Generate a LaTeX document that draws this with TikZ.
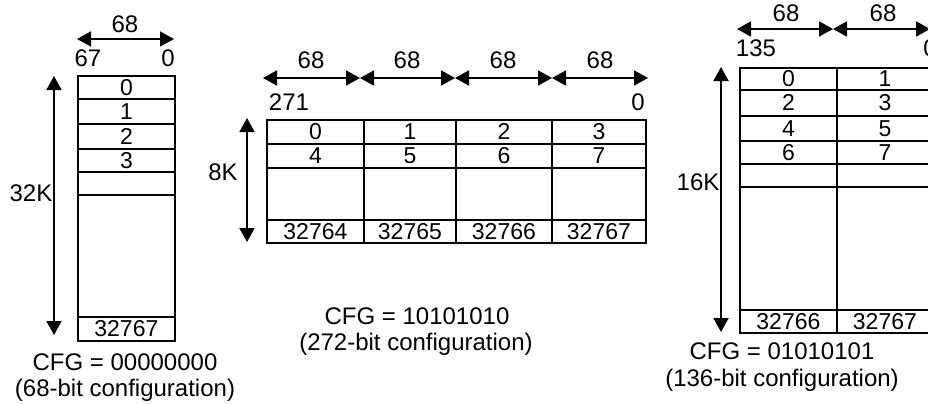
\documentclass[tikz,border=0pt]{standalone}
\usepackage{fontspec}
\setmainfont{Liberation Sans}
\usetikzlibrary{arrows.meta}
\newcommand{\mcell}[6]{\node[cell, minimum width={#4-#2}, minimum height={#5-#3}] (#1) at (#2,#3) {#6};}
\begin{document}
\begin{tikzpicture}[x=1pt,y=-1pt,
  cell/.style={draw, line width=1.8pt, inner sep=0pt, anchor=north west, font=\fontsize{23}{23}\selectfont},
  lbl/.style={inner sep=0pt, anchor=base, font=\fontsize{24}{24}\selectfont},
  dim/.style={line width=1.8pt, {Triangle[length=14pt,width=15pt]}-{Triangle[length=14pt,width=15pt]}}]
\useasboundingbox (0,0) rectangle (928,404);
% ---------- left: 68-bit ----------
\mcell{L0}{77}{75}{174}{98}{0}
\mcell{L1}{77}{98}{174}{123}{1}
\mcell{L2}{77}{123}{174}{148}{2}
\mcell{L3}{77}{148}{174}{171}{3}
\mcell{L4}{77}{171}{174}{194}{}
\mcell{L5}{77}{194}{174}{316}{}
\mcell{L6}{77}{316}{174}{340}{32767}
\coordinate (LhA) at (77,39); \coordinate (LhB) at (174,39);
\draw[dim] (LhA) -- (LhB);
\node[lbl] (Lw) at (125,32.5) {68};
\node[lbl] (Lmsb) at (88,66.5) {67};
\node[lbl] (Llsb) at (168,66.5) {0};
\coordinate (LvA) at (54,76); \coordinate (LvB) at (54,335);
\draw[dim] (LvA) -- (LvB);
\node[lbl] (Ld) at (31,201.5) {32K};
\node[lbl] (Lc1) at (125,370.5) {CFG = 00000000};
\node[lbl] (Lc2) at (125,396.5) {(68-bit configuration)};
% ---------- middle: 272-bit ----------
\mcell{M00}{266}{119}{363}{143}{0}
\mcell{M01}{363}{119}{455}{143}{1}
\mcell{M02}{455}{119}{551}{143}{2}
\mcell{M03}{551}{119}{645}{143}{3}
\mcell{M10}{266}{143}{363}{167}{4}
\mcell{M11}{363}{143}{455}{167}{5}
\mcell{M12}{455}{143}{551}{167}{6}
\mcell{M13}{551}{143}{645}{167}{7}
\mcell{M20}{266}{167}{363}{219}{}
\mcell{M21}{363}{167}{455}{219}{}
\mcell{M22}{455}{167}{551}{219}{}
\mcell{M23}{551}{167}{645}{219}{}
\mcell{M30}{266}{219}{363}{242}{32764}
\mcell{M31}{363}{219}{455}{242}{32765}
\mcell{M32}{455}{219}{551}{242}{32766}
\mcell{M33}{551}{219}{645}{242}{32767}
\coordinate (Mh0) at (263,78); \coordinate (Mh1) at (360,78);
\coordinate (Mh2) at (455,78); \coordinate (Mh3) at (552,78);
\coordinate (Mh4) at (648,78);
\draw[dim] (Mh0) -- (Mh1);
\draw[dim] (Mh1) -- (Mh2);
\draw[dim] (Mh2) -- (Mh3);
\draw[dim] (Mh3) -- (Mh4);
\node[lbl] (Mw0) at (311,68.5) {68};
\node[lbl] (Mw1) at (407,68.5) {68};
\node[lbl] (Mw2) at (503,68.5) {68};
\node[lbl] (Mw3) at (600,68.5) {68};
\node[lbl] (Mmsb) at (289,110) {271};
\node[lbl] (Mlsb) at (638,110) {0};
\coordinate (MvA) at (247,118); \coordinate (MvB) at (247,242);
\draw[dim] (MvA) -- (MvB);
\node[lbl] (Md) at (223,180) {8K};
\node[lbl] (Mc1) at (417,324) {CFG = 10101010};
\node[lbl] (Mc2) at (416,350) {(272-bit configuration)};
% ---------- right: 136-bit ----------
\mcell{R00}{739}{67}{836}{89}{0}
\mcell{R01}{836}{67}{932}{89}{1}
\mcell{R10}{739}{89}{836}{115}{2}
\mcell{R11}{836}{89}{932}{115}{3}
\mcell{R20}{739}{115}{836}{140}{4}
\mcell{R21}{836}{115}{932}{140}{5}
\mcell{R30}{739}{140}{836}{163}{6}
\mcell{R31}{836}{140}{932}{163}{7}
\mcell{R40}{739}{163}{836}{186}{}
\mcell{R41}{836}{163}{932}{186}{}
\mcell{R50}{739}{186}{836}{309}{}
\mcell{R51}{836}{186}{932}{309}{}
\mcell{R60}{739}{309}{836}{332}{32766}
\mcell{R61}{836}{309}{932}{332}{32767}
\coordinate (Rh0) at (737,29); \coordinate (Rh1) at (833,29);
\coordinate (Rh2) at (930,29);
\draw[dim] (Rh0) -- (Rh1);
\draw[dim] (Rh1) -- (Rh2);
\node[lbl] (Rw0) at (786,21.5) {68};
\node[lbl] (Rw1) at (883,21.5) {68};
\node[lbl] (Rmsb) at (756,56.5) {135};
\node[lbl] (Rlsb) at (930,56.5) {0};
\coordinate (RvA) at (721,67); \coordinate (RvB) at (721,332);
\draw[dim] (RvA) -- (RvB);
\node[lbl] (Rd) at (698,190) {16K};
\node[lbl] (Rc1) at (782,359.5) {CFG = 01010101};
\node[lbl] (Rc2) at (782,386.5) {(136-bit configuration)};
\end{tikzpicture}
\end{document}
